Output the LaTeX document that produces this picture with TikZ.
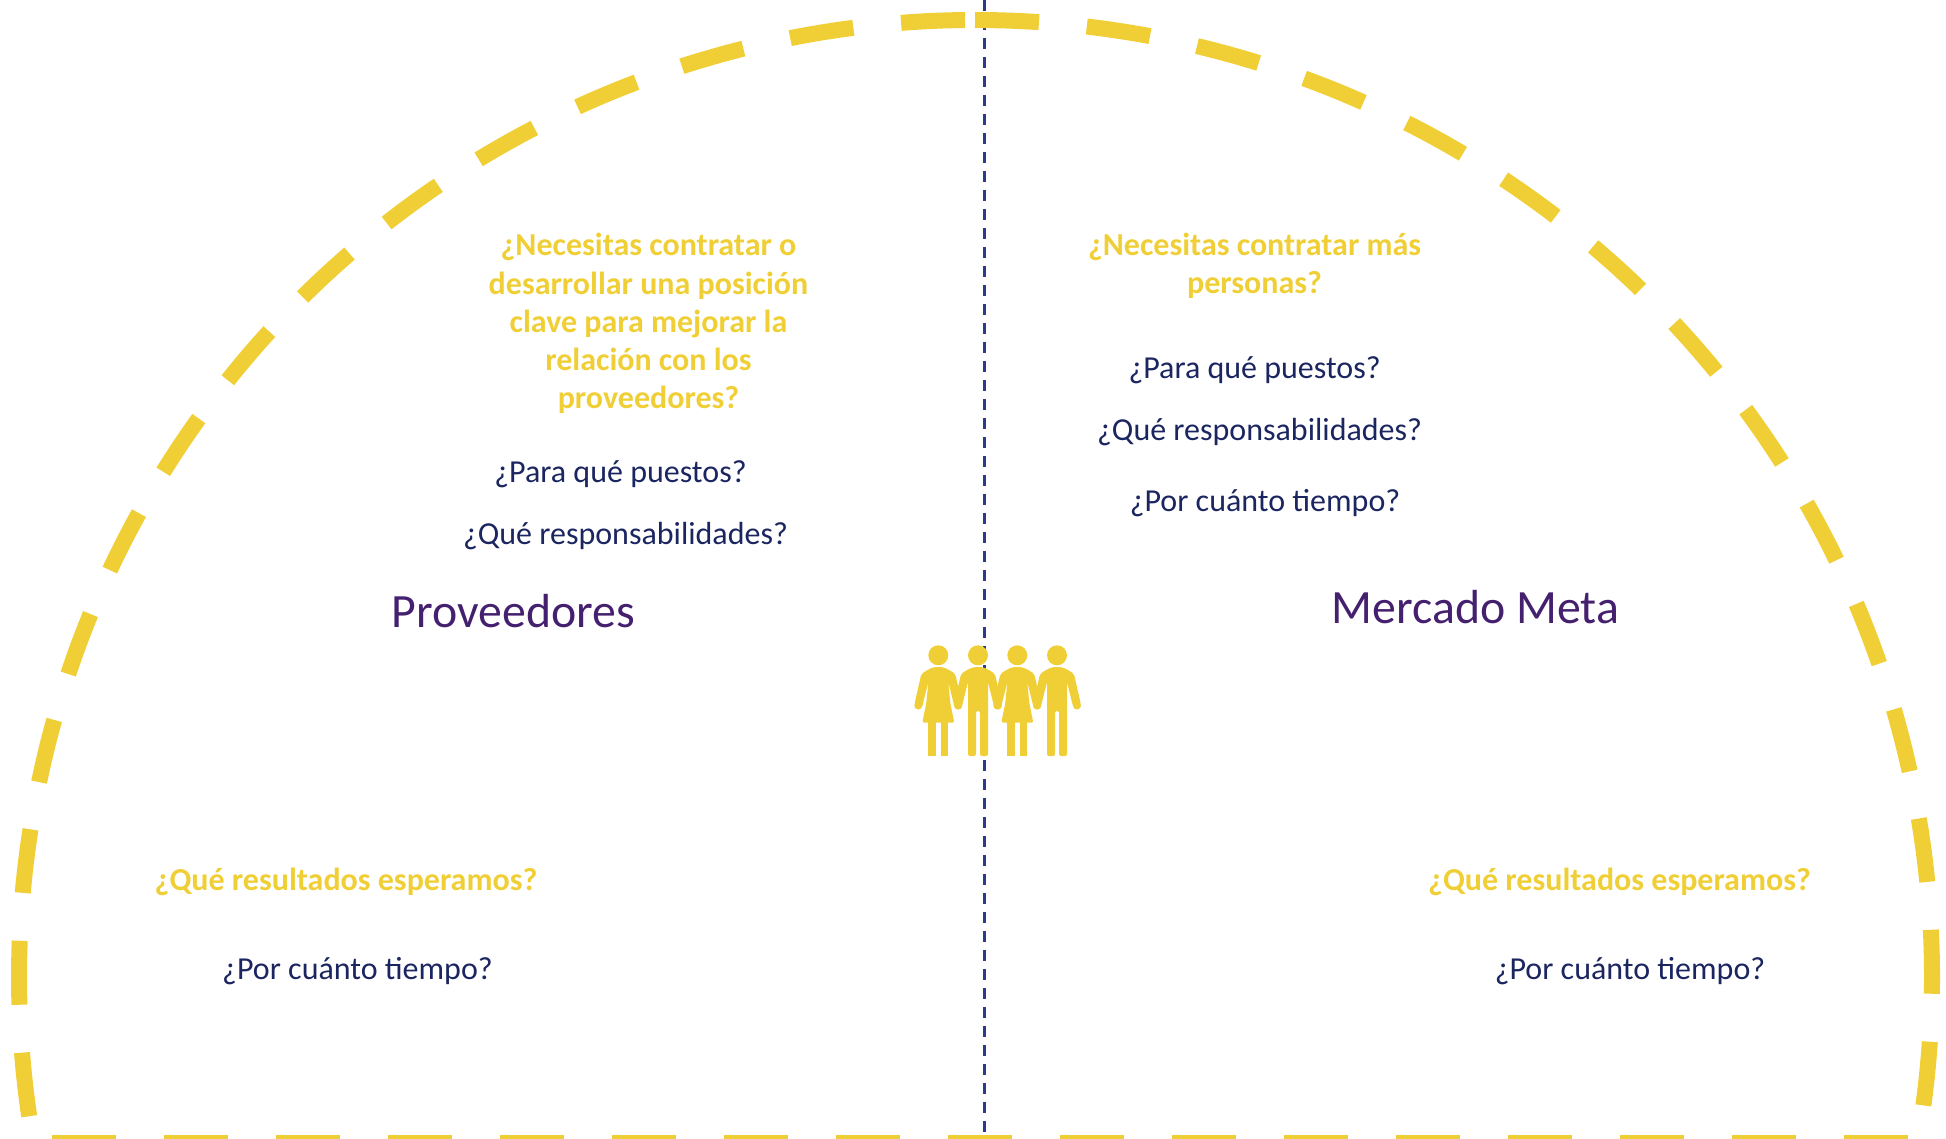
\documentclass[tikz,border=0pt]{standalone}
\usepackage{fontspec}
\setmainfont{Carlito}
\definecolor{ylw}{HTML}{F0CF36}
\definecolor{navy}{HTML}{1B2560}
\definecolor{axisblue}{HTML}{2B3A8C}
\definecolor{purp}{HTML}{44206F}
\tikzset{
  x=1pt,y=1pt,
  ring/.style={draw=ylw,line width=16pt,dash pattern=on 64pt off 48pt},
  axis/.style={draw=axisblue,line width=3pt,dash pattern=on 11pt off 8pt},
  ask/.style={text=ylw,font=\fontsize{32}{38.2}\selectfont\bfseries,align=center,inner sep=0pt},
  sub/.style={text=navy,font=\fontsize{32}{38.2}\selectfont,align=center,inner sep=0pt},
  head/.style={text=purp,font=\fontsize{47.8}{56}\selectfont,inner sep=0pt},
  woman/.pic={
    \fill[ylw] (0,1.7) circle (10);
    \fill[ylw,rounded corners=2pt] (-17,-17) .. controls (-10,-12) and (-5,-10) .. (0,-10) .. controls (5,-10) and (10,-12) .. (17,-17)
      -- (24,-48) -- (16.2,-50) -- (10,-25) -- (12,-46) -- (16,-65.7) -- (-16,-65.7) -- (-12,-46) -- (-10,-25) -- (-16.2,-50) -- (-24,-48) -- cycle;
    \fill[ylw] (-10,-65) rectangle (-2.3,-99);
    \fill[ylw] (2.3,-65) rectangle (10,-99);
    \fill[ylw] (-20,-48.5) circle (4);
    \fill[ylw] (20,-48.5) circle (4);
  },
  man/.pic={
    \fill[ylw] (0,1.7) circle (10);
    \fill[ylw,rounded corners=2pt] (-17,-17) .. controls (-10,-12) and (-5,-10) .. (0,-10) .. controls (5,-10) and (10,-12) .. (17,-17)
      -- (24,-48) -- (16.2,-50) -- (10,-25) -- (10,-99) -- (2,-99) -- (2,-54) -- (-2,-54) -- (-2,-99) -- (-10,-99) -- (-10,-25) -- (-16.2,-50) -- (-24,-48) -- cycle;
    \fill[ylw] (-20,-48.5) circle (4);
    \fill[ylw] (20,-48.5) circle (4);
  }
}
\begin{document}
\begin{tikzpicture}
\useasboundingbox (0,0) rectangle (1946,-1138);
\clip (0,0) rectangle (1946,-1138);
% axis
\draw[axis] (984,0) -- (984,-1138);
% ring
\draw[ring] (975,-20) arc[start angle=90,end angle=-10,radius=957];
\draw[ring] (965,-20) arc[start angle=90.66,end angle=190,radius=957];
\draw[ring] (52,-1143) -- (1946,-1143);
% people
\path (938.3,-657) pic {woman};
\path (978,-657) pic {man};
\path (1017.3,-657) pic {woman};
\path (1057,-657) pic {man};
% text
\node[ask] (q1) at (648.5,-323.5) {¿Necesitas contratar o\\desarrollar una posición\\clave para mejorar la\\relación con los\\proveedores?};
\node[sub] (a1) at (620.5,-474) {¿Para qué puestos?};
\node[sub] (a2) at (625.5,-536) {¿Qué responsabilidades?};
\node[head] (h1) at (513.5,-611) {Proveedores};
\node[ask] (q2) at (1254.6,-266) {¿Necesitas contratar más\\personas?};
\node[sub] (b1) at (1254.6,-370) {¿Para qué puestos?};
\node[sub] (b2) at (1259.6,-432) {¿Qué responsabilidades?};
\node[sub] (b3) at (1265,-503) {¿Por cuánto tiempo?};
\node[head] (h2) at (1475.5,-607) {Mercado Meta};
\node[ask] (q3) at (346,-881.5) {¿Qué resultados esperamos?};
\node[sub] (c1) at (357.5,-971) {¿Por cuánto tiempo?};
\node[ask] (q4) at (1619.5,-881.5) {¿Qué resultados esperamos?};
\node[sub] (d1) at (1630,-971) {¿Por cuánto tiempo?};
\end{tikzpicture}
\end{document}
